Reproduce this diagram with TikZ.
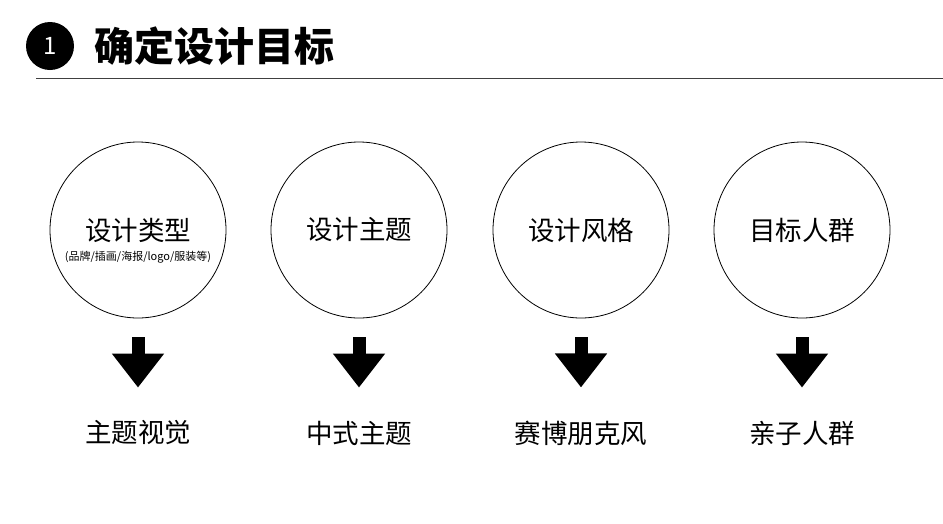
\documentclass[tikz,border=0pt]{standalone}
\usepackage{fontspec}
\setmainfont{Noto Sans CJK SC}
\usetikzlibrary{arrows.meta,positioning}

\begin{document}
\begin{tikzpicture}[x=1pt,y=-1pt,font=\fontsize{26.5}{30}\selectfont]
    \tikzset{
      goal/.style={draw, circle, line width=0.8pt, minimum size=176pt, inner sep=0pt, align=center},
      result/.style={inner sep=0pt, font=\fontsize{26.5}{30}\selectfont},
      note/.style={inner sep=0pt, font=\fontsize{11}{13}\selectfont},
      downarrow/.style={line width=13pt, -{Triangle[length=34pt, width=50pt]}}
    }
    \useasboundingbox (0,0) rectangle (943,523);
    % heading
    \node[circle, fill=black, minimum size=48pt, inner sep=0pt, text=white,
      font=\fontsize{24}{28}\selectfont] (num) at (50,46) {1};
    \node[anchor=west, inner sep=0pt, font=\fontsize{40}{46}\selectfont\bfseries] (title) at (94,46) {确定设计目标};
    \coordinate (rulestart) at (36,78);
    \coordinate (ruleend) at (943,78);
    \draw[line width=0.8pt, black!75] (rulestart) -- (ruleend);
    % the four goals
    \node[goal] (type) at (138,230) {设计类型};
    \node[note] (typenote) at ([yshift=-27pt]type.center) {(品牌/插画/海报/logo/服装等)};
    \node[goal] (theme) at (359,230) {设计主题};
    \node[goal] (style) at (581,230) {设计风格};
    \node[goal] (crowd) at (802,230) {目标人群};
    \node[result] (visual) at (138,433) {主题视觉};
    \node[result] (chinese) at (359,433) {中式主题};
    \node[result] (cyber) at (581,433) {赛博朋克风};
    \node[result] (family) at (802,433) {亲子人群};
    \draw[downarrow] ([yshift=-19pt]type.south) -- ([yshift=33pt]visual.north);
    \draw[downarrow] ([yshift=-19pt]theme.south) -- ([yshift=33pt]chinese.north);
    \draw[downarrow] ([yshift=-19pt]style.south) -- ([yshift=33pt]cyber.north);
    \draw[downarrow] ([yshift=-19pt]crowd.south) -- ([yshift=33pt]family.north);
\end{tikzpicture}
\end{document}
